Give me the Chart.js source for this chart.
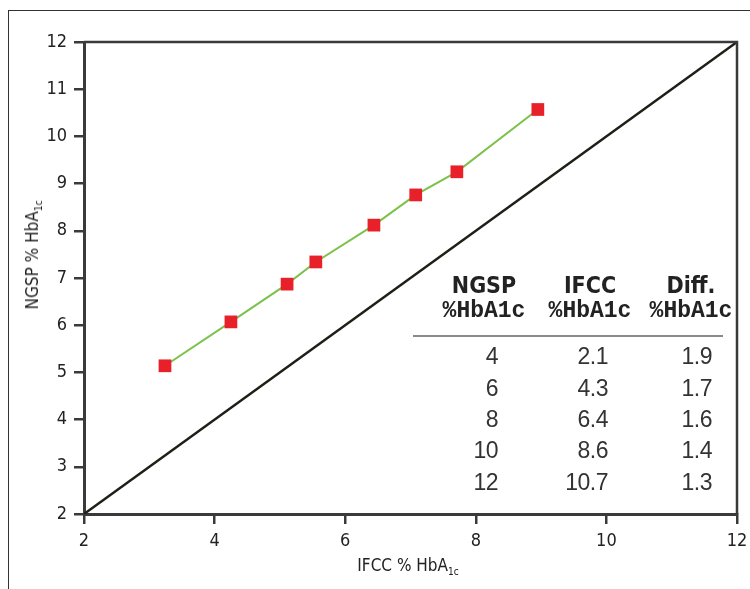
<!DOCTYPE html>
<html>
<head>
<meta charset="utf-8">
<script src="https://cdn.jsdelivr.net/npm/chart.js@4"></script>
<style>
  body { margin: 0; background: #fff; }
  #wrap { position: relative; width: 750px; height: 589px; overflow: hidden; }
  #frame { position: absolute; left: 8px; top: 10px; width: 760px; height: 600px; border-left: 1.5px solid #333; border-top: 1.5px solid #333; }
  canvas { position: absolute; left: 0; top: 0; }
  .ttl { position: absolute; font-family: "Liberation Sans Narrow", "DejaVu Sans Condensed", sans-serif; font-size: 17px; color: #222; white-space: nowrap; }
  .ttl sub { font-size: 10px; vertical-align: -4px; }
  #ytl { left: 33px; top: 255px; transform: translate(-50%, -50%) rotate(-90deg); }
  #xtl { left: 408px; top: 566px; transform: translate(-50%, -50%); }
  .th { position: absolute; font-weight: bold; color: #222; line-height: 24px; white-space: nowrap; transform: translateX(-50%); }
  .th.a { font-family: "Liberation Sans Narrow", "DejaVu Sans Condensed", sans-serif; font-size: 23px; }
  .th.b { font-family: "Liberation Mono", "DejaVu Sans Mono", monospace; font-size: 23px; line-height: 23px; }
  .td { position: absolute; font-family: "Liberation Sans", Arial, sans-serif; font-size: 23px; line-height: 23px; letter-spacing: -0.5px; color: #333; text-align: right; }
  #rule { position: absolute; left: 413px; top: 335px; width: 310px; height: 2px; background: #8a8a8a; }
</style>
</head>
<body>
<div id="wrap">
  <div id="frame"></div>
  <canvas id="c" width="750" height="589"></canvas>
  <div class="ttl" id="ytl">NGSP % HbA<sub>1c</sub></div>
  <div class="ttl" id="xtl">IFCC % HbA<sub>1c</sub></div>
  <div id="tbl"></div>
  <div id="rule"></div>
</div>
<script>
// IFCC vs NGSP HbA1c conversion chart.
const ifccPts = [3.24, 4.25, 5.11, 5.55, 6.44, 7.08, 7.71, 8.95];
const ngspPts = [5.14, 6.07, 6.87, 7.34, 8.12, 8.76, 9.25, 10.57];
const identity = [2, 12];
const axisTicks = [2, 4, 6, 8, 10, 12];

const tblHead = [['NGSP', '%HbA1c'], ['IFCC', '%HbA1c'], ['Diff.', '%HbA1c']];
const tblNgsp = ['4', '6', '8', '10', '12'];
const tblIfcc = ['2.1', '4.3', '6.4', '8.6', '10.7'];
const tblDiff = ['1.9', '1.7', '1.6', '1.4', '1.3'];

const FONT = '"Liberation Sans Narrow", "DejaVu Sans Condensed", sans-serif';

// table overlay
const tbl = document.getElementById('tbl');
const headX = [484, 590, 691];
const colRight = [498, 608, 712];
const rowTop = [345, 377, 408, 439, 471];
let html = '';
tblHead.forEach((h, i) => {
  html += `<div class="th a" style="left:${headX[i]}px;top:273px">${h[0]}</div>`;
  html += `<div class="th b" style="left:${headX[i]}px;top:300px">${h[1]}</div>`;
});
[tblNgsp, tblIfcc, tblDiff].forEach((col, i) => {
  col.forEach((v, r) => { html += `<div class="td" style="right:${750 - colRight[i]}px;top:${rowTop[r]}px">${v}</div>`; });
});
tbl.innerHTML = html;

const boxPlugin = {
  id: 'box',
  afterDatasetsDraw(chart) {
    const a = chart.chartArea, ctx = chart.ctx;
    ctx.save();
    ctx.strokeStyle = '#3a3a3a'; ctx.lineWidth = 2.5;
    ctx.beginPath();
    ctx.moveTo(a.left, a.top); ctx.lineTo(a.right, a.top); ctx.lineTo(a.right, a.bottom);
    ctx.stroke();
    ctx.restore();
  }
};

const axisOpts = (fit) => ({
  type: 'linear', min: 2, max: 12,
  afterFit: fit,
  afterBuildTicks: (s) => { if (s.axis === 'x') s.ticks = axisTicks.map((v) => ({ value: v })); },
  border: { display: true, color: '#3a3a3a', width: 3 },
  grid: { drawOnChartArea: false, drawTicks: true, tickLength: 10, color: '#3a3a3a', lineWidth: 2.5 },
  ticks: { stepSize: 1, padding: 7, color: '#222', font: { family: FONT, size: 18 } }
});

new Chart(document.getElementById('c'), {
  type: 'scatter',
  data: {
    datasets: [
      { data: identity.map((v) => ({ x: v, y: v })), showLine: true, borderColor: '#1f1f18', borderWidth: 2.5, pointRadius: 0 },
      { data: ifccPts.map((x, i) => ({ x, y: ngspPts[i] })), showLine: true, borderColor: '#7cc24a', borderWidth: 2,
        pointStyle: 'rect', pointRadius: 9, pointBackgroundColor: '#e8202a', pointBorderWidth: 0 }
    ]
  },
  options: {
    responsive: false, animation: false,
    layout: { padding: { top: 42, right: 13, left: 0, bottom: 0 } },
    plugins: { legend: { display: false }, tooltip: { enabled: false } },
    scales: {
      x: axisOpts((s) => { s.height = 75; s.paddingLeft = 0; s.paddingRight = 0; }),
      y: axisOpts((s) => { s.width = 84; s.paddingTop = 0; s.paddingBottom = 0; })
    }
  },
  plugins: [boxPlugin]
});
</script>
</body>
</html>
